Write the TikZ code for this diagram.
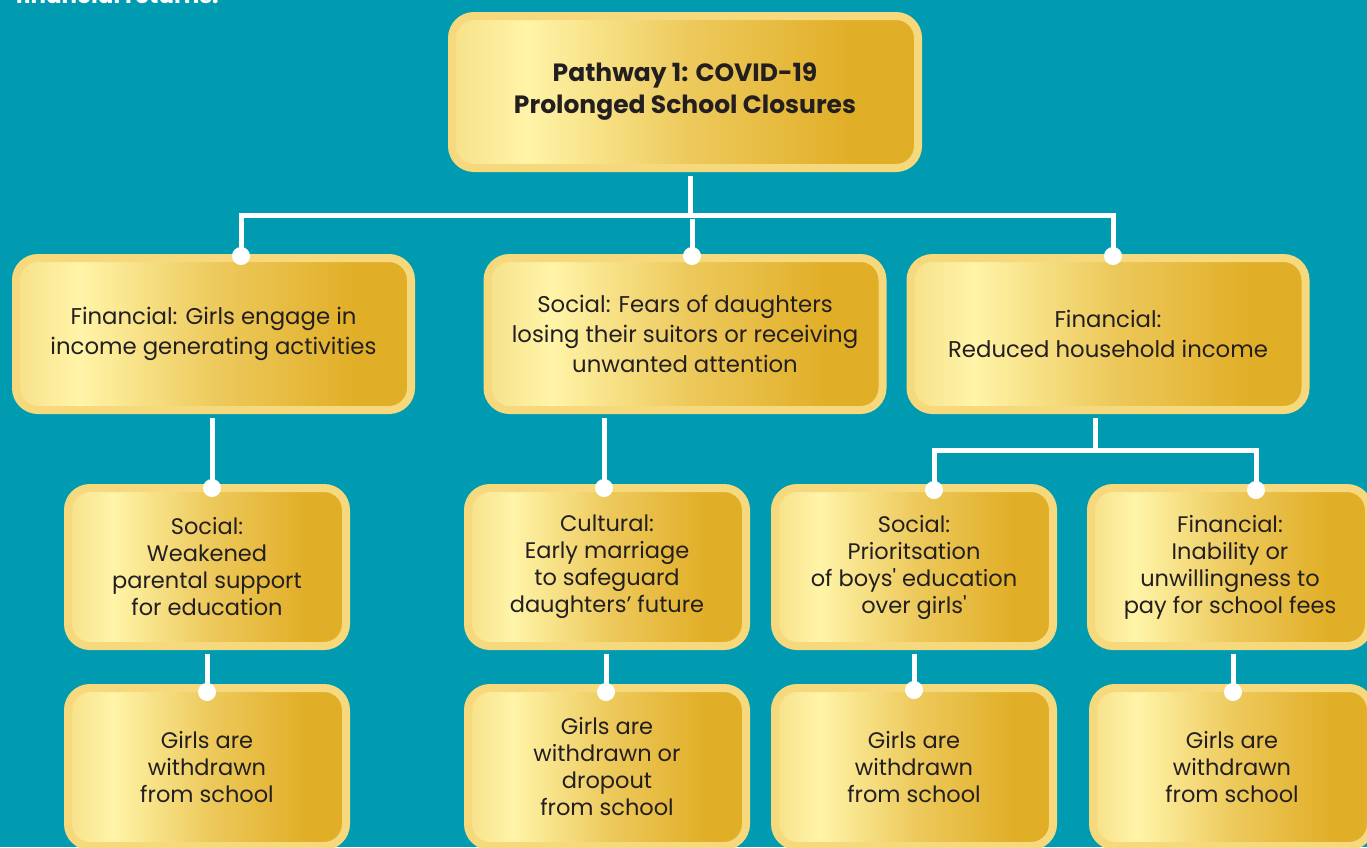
\documentclass[tikz,border=0pt]{standalone}
\usepackage{fontspec}
\setmainfont{Poppins}
\usepackage{tikz}
\usetikzlibrary{positioning}

\definecolor{bgteal}{HTML}{009BB0}
\definecolor{goldhi}{HTML}{FFF4A8}
\definecolor{goldlight}{HTML}{F7E18A}
\definecolor{golddark}{HTML}{E1AE27}
\definecolor{goldrim}{HTML}{F6D97C}
\definecolor{inkdark}{HTML}{231F20}

\pgfdeclarehorizontalshading{goldsweep}{100bp}{%
  color(0bp)=(goldlight); color(25bp)=(goldlight); color(33bp)=(goldhi);
  color(50bp)=(goldlight!55!golddark); color(68bp)=(golddark); color(100bp)=(golddark)}

\begin{document}
\begin{tikzpicture}[x=1pt, y=-1pt,
	  box/.style = {shape=rectangle, rounded corners=22pt, draw=goldrim, line width=8pt,
	    shade, shading=goldsweep, inner sep=0pt, align=center,
	    text=inkdark, font=\fontsize{22.5}{27}\selectfont},
	  wide/.style = {box, minimum width=395pt, minimum height=152pt, font=\fontsize{22.8}{30}\selectfont},
	  small/.style = {box, minimum width=278pt, minimum height=158pt},
	  link/.style = {draw=white, line width=5pt, shorten <=4pt},
	  dot/.style = {fill=white}
	]
	  \useasboundingbox (0,0) rectangle (1367,847);
	  \clip (0,0) rectangle (1367,847);
	  \fill[bgteal] (0,0) rectangle (1367,847);

	  \node[anchor=base west, text=white, font=\bfseries\fontsize{23}{26}\selectfont] (note) at (12,3) {financial returns.};

	  \node[box, minimum width=466pt, minimum height=152pt, font=\bfseries\fontsize{25}{32}\selectfont]
	    (pathway) at (685,92) {Pathway 1: COVID-19\\Prolonged School Closures};

	  \node[wide] (income) at (213.5,334) {Financial: Girls engage in\\income generating activities};
	  \node[wide] (fears) at (685,334) {Social: Fears of daughters\\losing their suitors or receiving\\unwanted attention};
	  \node[wide] (reduced) at (1108,334) {Financial:\\Reduced household income};

	  \node[small] (parental) at (207,567) {Social:\\Weakened\\parental support\\for education};
	  \node[small] (marriage) at (607,567) {Cultural:\\Early marriage\\to safeguard\\daughters’ future};
	  \node[small] (boys) at (914,567) {Social:\\Prioritsation\\of boys\textquotesingle{} education\\over girls\textquotesingle};
	  \node[small] (fees) at (1230,567) {Financial:\\Inability or\\unwillingness to\\pay for school fees};

	  \node[small] (outA) at (207,767) {Girls are\\withdrawn\\from school};
	  \node[small] (outB) at (607,767) {Girls are\\withdrawn or\\dropout\\from school};
	  \node[small] (outC) at (914,767) {Girls are\\withdrawn\\from school};
	  \node[small] (outD) at (1232,767) {Girls are\\withdrawn\\from school};

	  \coordinate (hub) at (690,215);
	  \coordinate (d1) at (241,256);
	  \coordinate (d2) at (692,256);
	  \coordinate (d3) at (1113,256);
	  \coordinate (e1) at (212,488);
	  \coordinate (e2) at (604,488);
	  \coordinate (hubR) at (1095,450);
	  \coordinate (e3) at (934,490);
	  \coordinate (e4) at (1256,490);
	  \coordinate (f1) at (207,692);
	  \coordinate (f2) at (606,692);
	  \coordinate (f3) at (914,690);
	  \coordinate (f4) at (1233,692);

	  \draw[link] (hub |- pathway.south) -- (hub);
	  \draw[link] (d1) |- (hub) -| (d3);
	  \draw[link] (hub -| d2) -- (d2);
	  \draw[link] (e1 |- income.south) -- (e1);
	  \draw[link] (e2 |- fears.south) -- (e2);
	  \draw[link] (hubR |- reduced.south) -- (hubR);
	  \draw[link] (e3) |- (hubR) -| (e4);
	  \draw[link] (f1 |- parental.south) -- (f1);
	  \draw[link] (f2 |- marriage.south) -- (f2);
	  \draw[link] (f3 |- boys.south) -- (f3);
	  \draw[link] (f4 |- fees.south) -- (f4);

	  \foreach \d in {d1,d2,d3,e1,e2,e3,e4,f1,f2,f3,f4}
	    \fill[dot] (\d) circle (9pt);
	\end{tikzpicture}
\end{document}
